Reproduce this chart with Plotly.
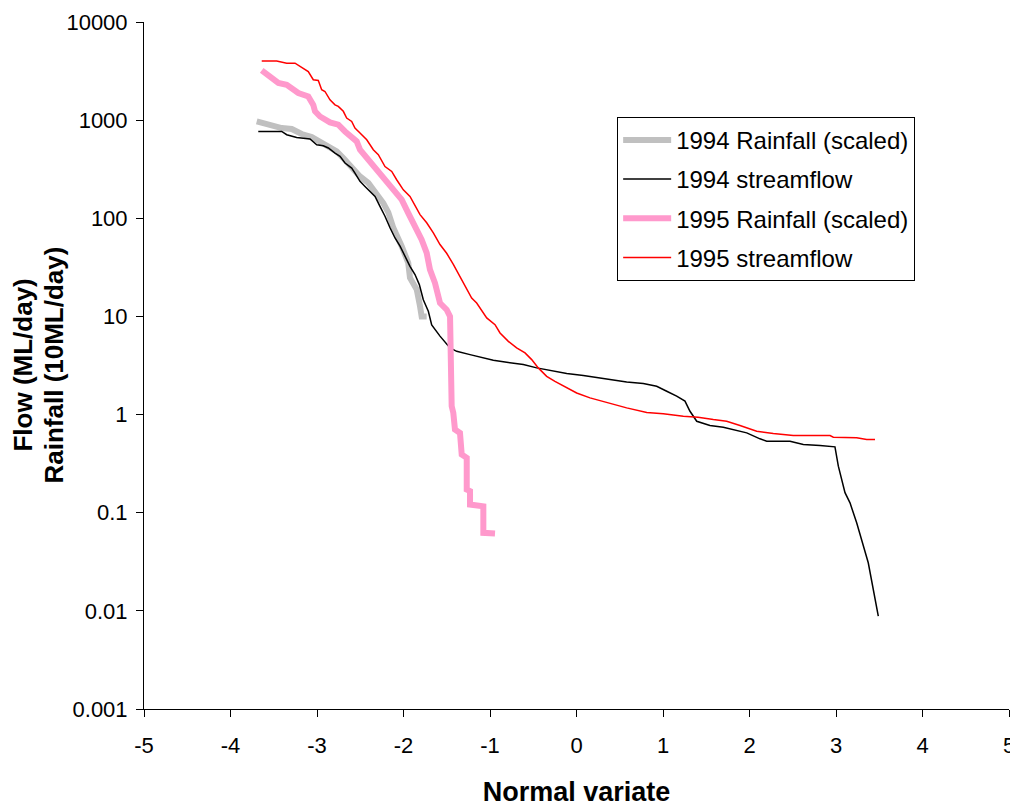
import plotly.graph_objects as go

# Flow duration curves plotted against the standard normal variate.
# 1994 rainfall (scaled)
rain94_x = [-3.697, -3.543, -3.408, -3.292, -3.177, -3.061, -2.965, -2.850, -2.772,
            -2.696, -2.599, -2.503, -2.407, -2.310, -2.234, -2.176, -2.118, -2.021,
            -1.945, -1.925, -1.847, -1.809, -1.790, -1.732]
rain94_y = [970, 877, 831, 812, 722, 673, 607, 520, 480,
            411, 325, 267, 229, 181, 143, 115, 80, 52,
            35, 24.7, 18.8, 12.7, 10.0, 10.0]

# 1994 streamflow
flow94_x = [-3.679, -3.408, -3.350, -3.235, -3.081, -3.003, -2.927, -2.869, -2.792,
            -2.734, -2.676, -2.599, -2.561, -2.503, -2.445, -2.387, -2.329, -2.272,
            -2.214, -2.156, -2.098, -2.040, -1.983, -1.925, -1.867, -1.817, -1.771,
            -1.713, -1.674, -1.578, -1.462, -1.385, -1.231, -1.116, -0.962, -0.807,
            -0.615, -0.460, -0.268, -0.113, 0.079, 0.272, 0.425, 0.580, 0.772,
            0.927, 1.043, 1.158, 1.254, 1.312, 1.390, 1.543, 1.697, 1.813,
            1.968, 2.121, 2.199, 2.468, 2.622, 2.815, 2.988, 3.027, 3.104,
            3.162, 3.239, 3.373, 3.489]
flow94_y = [767, 767, 710, 667, 642, 562, 549, 520, 462,
            427, 366, 325, 289, 238, 211, 188, 167, 132,
            105, 80, 63, 52, 41, 32.4, 26.7, 21.1, 14.8,
            11.3, 8.2, 6.3, 4.78, 4.41, 4.08, 3.83, 3.57, 3.41,
            3.23, 2.99, 2.76, 2.62, 2.50, 2.36, 2.27, 2.15, 2.07,
            1.94, 1.73, 1.54, 1.37, 1.08, 0.855, 0.773, 0.743, 0.704,
            0.651, 0.566, 0.535, 0.535, 0.495, 0.483, 0.469, 0.298, 0.160,
            0.126, 0.0789, 0.0309, 0.00883]

# 1995 rainfall (scaled)
rain95_x = [-3.639, -3.543, -3.447, -3.350, -3.216, -3.101, -3.043, -3.023, -2.965,
            -2.850, -2.754, -2.676, -2.599, -2.541, -2.503, -2.407, -2.310, -2.214,
            -2.118, -2.021, -1.945, -1.867, -1.790, -1.732, -1.694, -1.636, -1.578,
            -1.501, -1.462, -1.443, -1.424, -1.405, -1.347, -1.327, -1.269, -1.269,
            -1.231, -1.231, -1.077, -1.077, -0.942]
rain95_y = [3210, 2790, 2390, 2290, 1890, 1740, 1430, 1230, 1090,
            948, 898, 767, 682, 607, 500, 395, 313, 247,
            204, 155, 113, 83, 60.5, 44.4, 30, 21.9, 13.7,
            11.7, 10.0, 1.22, 1.04, 0.703, 0.651, 0.392, 0.362, 0.172,
            0.166, 0.121, 0.116, 0.0624, 0.0614]

# 1995 streamflow
flow95_x = [-3.639, -3.466, -3.350, -3.254, -3.101, -3.043, -2.985, -2.946, -2.908,
            -2.850, -2.792, -2.754, -2.696, -2.657, -2.599, -2.561, -2.503, -2.425,
            -2.349, -2.291, -2.214, -2.136, -2.079, -2.002, -1.925, -1.867, -1.809,
            -1.732, -1.655, -1.578, -1.501, -1.424, -1.347, -1.269, -1.212, -1.154,
            -1.038, -0.942, -0.884, -0.788, -0.692, -0.595, -0.518, -0.442, -0.345,
            -0.249, -0.113, 0.002, 0.156, 0.349, 0.580, 0.812, 1.003, 1.235,
            1.405, 1.582, 1.736, 1.890, 2.083, 2.275, 2.506, 2.931, 2.969,
            3.239, 3.355, 3.451]
flow95_y = [4000, 4000, 3810, 3810, 3130, 2580, 2540, 2040, 1960,
            1610, 1430, 1380, 1230, 1050, 970, 830, 740, 630,
            500, 445, 337, 300, 247, 195, 167, 137, 109,
            90, 71, 54, 44, 34, 25.6, 19.5, 15.4, 13.7,
            9.66, 8.25, 6.79, 5.57, 4.78, 4.25, 3.63, 2.99, 2.45,
            2.18, 1.87, 1.66, 1.48, 1.32, 1.17, 1.05, 1.02, 0.96,
            0.94, 0.89, 0.855, 0.773, 0.676, 0.64, 0.611, 0.611, 0.587,
            0.579, 0.556, 0.556]

x_ticks = [-5, -4, -3, -2, -1, 0, 1, 2, 3, 4, 5]
x_tick_text = ["-5", "-4", "-3", "-2", "-1", "0", "1", "2", "3", "4", "5"]
y_ticks = [0.001, 0.01, 0.1, 1, 10, 100, 1000, 10000]
y_tick_text = ["0.001", "0.01", "0.1", "1", "10", "100", "1000", "10000"]
y_title_lines = ["Flow (ML/day)", "Rainfall (10ML/day)"]

FONT = "Arial, Liberation Sans, sans-serif"

series = [
    ("1994 Rainfall (scaled)", rain94_x, rain94_y, "#c0c0c0", 6),
    ("1994 streamflow", flow94_x, flow94_y, "#000000", 1.5),
    ("1995 Rainfall (scaled)", rain95_x, rain95_y, "#ff99cc", 6),
    ("1995 streamflow", flow95_x, flow95_y, "#ff0000", 1.5),
]

fig = go.Figure()
for name, xs, ys, color, width in series:
    fig.add_trace(go.Scatter(
        x=xs, y=ys, mode="lines", name=name, legendgroup=name,
        line=dict(color=color, width=width),
    ))

# two-line vertical axis title, one rotated line per annotation
for line, xpos in zip(y_title_lines, [-0.1410, -0.1052]):
    fig.add_annotation(
        text=f"<b>{line}</b>", xref="paper", yref="paper",
        x=xpos, y=0.5, xanchor="center", yanchor="middle",
        textangle=-90, showarrow=False,
        font=dict(size=26, family=FONT, color="black"),
    )

fig.update_layout(
    width=1010, height=807,
    margin=dict(l=144, r=1, t=22, b=98),
    paper_bgcolor="white", plot_bgcolor="white",
    font=dict(family=FONT, color="black", size=22),
    showlegend=True,
    legend=dict(
        x=0.547, y=0.862, xanchor="left", yanchor="top",
        bgcolor="white", bordercolor="black", borderwidth=1,
        font=dict(size=24, family=FONT, color="black"),
        tracegroupgap=5, itemwidth=48, traceorder="grouped",
    ),
    xaxis=dict(
        range=[-5, 5], tickvals=x_ticks, ticktext=x_tick_text,
        showgrid=False, zeroline=False,
        showline=True, linecolor="black", linewidth=1,
        ticks="outside", ticklen=7, tickcolor="black",
        ticklabelstandoff=10, ticklabeloverflow="allow", automargin=False,
        tickfont=dict(size=22),
        title=dict(text="<b>Normal variate</b>", font=dict(size=27), standoff=25),
    ),
    yaxis=dict(
        type="log", range=[-3, 4], tickvals=y_ticks, ticktext=y_tick_text,
        showgrid=False, zeroline=False,
        showline=True, linecolor="black", linewidth=1,
        ticks="outside", ticklen=7, tickcolor="black",
        ticklabelstandoff=4, automargin=False,
        tickfont=dict(size=22),
    ),
)

fig.write_html("out.html")
